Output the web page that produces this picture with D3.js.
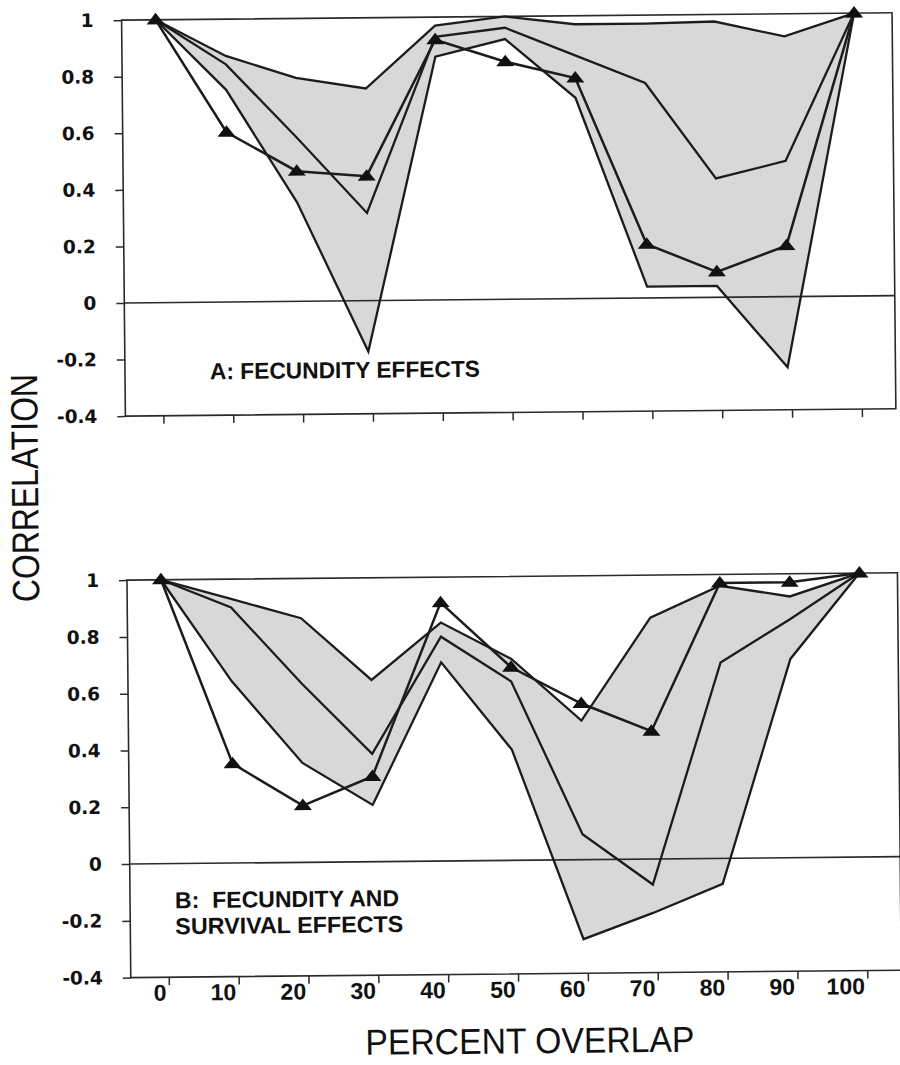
<!DOCTYPE html>
<html>
<head>
<meta charset="utf-8">
<script src="https://cdn.jsdelivr.net/npm/d3@7"></script>
<style>
  html, body { margin: 0; padding: 0; background: #fff; }
  svg { display: block; }
</style>
</head>
<body>
<svg id="fig" width="900" height="1065"></svg>
<script>
// Percent overlap categories (x) and correlation ticks (y)
const overlap = [0, 10, 20, 30, 40, 50, 60, 70, 80, 90, 100];
const xTickLabels = ["0", "10", "20", "30", "40", "50", "60", "70", "80", "90", "100"];
const yTicks = [-0.4, -0.2, 0, 0.2, 0.4, 0.6, 0.8, 1];
const yTickLabels = ["-0.4", "-0.2", "0", "0.2", "0.4", "0.6", "0.8", "1"];

// Panel A: fecundity effects
const fecUpper = [1.00, 0.87, 0.79, 0.75, 0.97, 1.00, 0.97, 0.97, 0.975, 0.92, 1.00];
const fecMid   = [1.00, 0.84, 0.58, 0.31, 0.93, 0.96, 0.86, 0.76, 0.42, 0.48, 1.00];
const fecLower = [1.00, 0.75, 0.35, -0.18, 0.86, 0.92, 0.71, 0.04, 0.04, -0.25, 1.00];
const fecObs   = [1.00, 0.60, 0.46, 0.44, 0.92, 0.84, 0.78, 0.19, 0.09, 0.18, 1.00];

// Panel B: fecundity and survival effects
const fsUpper = [1.00, 0.93, 0.86, 0.64, 0.84, 0.71, 0.49, 0.85, 0.96, 0.92, 1.00];
const fsMid   = [1.00, 0.90, 0.63, 0.38, 0.79, 0.63, 0.09, -0.09, 0.69, 0.84, 1.00];
const fsLower = [1.00, 0.64, 0.35, 0.20, 0.70, 0.39, -0.28, -0.19, -0.09, 0.70, 1.00];
const fsObs   = [1.00, 0.35, 0.20, 0.30, 0.91, 0.68, 0.55, 0.45, 0.97, 0.97, 1.00];

const INK = "#1c1c1c";
const FILL = "#d8d8d8";
const LEFT = 126.5, RIGHT = 897;

const svg = d3.select("#fig");
const root = svg.append("g").attr("transform", "rotate(-0.55 450 530)");

const x = d3.scaleLinear().domain([0, 100]).range([160.5, 859]);

const panels = [
  { top: 17, bottom: 413, upper: fecUpper, mid: fecMid, lower: fecLower, obs: fecObs, xLabels: false },
  { top: 577, bottom: 974.5, upper: fsUpper, mid: fsMid, lower: fsLower, obs: fsObs, xLabels: true }
];

panels.forEach(p => {
  const y = d3.scaleLinear().domain([-0.4, 1]).range([p.bottom, p.top]);
  const g = root.append("g");

  // shaded envelope between lower and upper bounds
  const band = overlap.map((v, i) => ({ v, lo: p.lower[i], hi: p.upper[i] }));
  g.append("path")
    .datum(band)
    .attr("d", d3.area().x(d => x(d.v)).y0(d => y(d.lo)).y1(d => y(d.hi)))
    .attr("fill", FILL)
    .attr("stroke", "none");

  // frame and zero line
  g.append("rect")
    .attr("x", LEFT).attr("y", y(1))
    .attr("width", RIGHT - LEFT).attr("height", y(-0.4) - y(1))
    .attr("fill", "none").attr("stroke", "#2a2a2a").attr("stroke-width", 1.6);
  g.append("line")
    .attr("x1", LEFT).attr("x2", RIGHT)
    .attr("y1", y(0)).attr("y2", y(0))
    .attr("stroke", "#2a2a2a").attr("stroke-width", 1.6);

  // y axis
  const yAxis = g.append("g").attr("transform", `translate(${LEFT},0)`)
    .call(d3.axisLeft(y).tickValues(yTicks).tickSize(8).tickSizeOuter(0).tickPadding(20)
      .tickFormat((d, i) => yTickLabels[i]));
  yAxis.select(".domain").remove();
  yAxis.selectAll(".tick line").attr("stroke", "#2a2a2a").attr("stroke-width", 1.5);
  yAxis.selectAll(".tick text")
    .attr("fill", "#111")
    .style("font-family", "'DejaVu Sans', sans-serif")
    .style("font-weight", "bold")
    .style("font-size", "18.5px");

  // x axis: ticks sit just right of each category, labels end before the tick
  const xAxis = g.append("g").attr("transform", `translate(0,${p.bottom})`)
    .call(d3.axisBottom(x).tickValues(overlap).tickSize(8).tickSizeOuter(0)
      .tickFormat((d, i) => xTickLabels[i]));
  xAxis.select(".domain").remove();
  xAxis.selectAll(".tick line").attr("x1", 4).attr("x2", 4)
    .attr("stroke", "#2a2a2a").attr("stroke-width", 1.5);
  if (p.xLabels) {
    xAxis.selectAll(".tick text")
      .attr("x", 1).attr("y", 23.5).attr("dy", 0)
      .attr("text-anchor", "end")
      .attr("fill", "#111")
      .style("font-family", "'Liberation Sans', Arial, sans-serif")
      .style("font-weight", "bold")
      .style("font-size", "23px");
  } else {
    xAxis.selectAll(".tick text").remove();
  }

  // series lines
  const line = d3.line().x((d, i) => x(overlap[i])).y(d => y(d));
  [p.upper, p.mid, p.lower].forEach(s => {
    g.append("path").datum(s).attr("d", line)
      .attr("fill", "none").attr("stroke", INK)
      .attr("stroke-width", 2.3).attr("stroke-linejoin", "miter");
  });
  g.append("path").datum(p.obs).attr("d", line)
    .attr("fill", "none").attr("stroke", INK)
    .attr("stroke-width", 2.5).attr("stroke-linejoin", "miter");

  // triangle markers
  g.selectAll("path.tri")
    .data(p.obs)
    .join("path")
    .attr("class", "tri")
    .attr("transform", (d, i) => `translate(${x(overlap[i])},${y(d)})`)
    .attr("d", "M0,-7L9,4.5L-9,4.5Z")
    .attr("fill", "#111");
});

// panel captions
const capStyle = sel => sel
  .attr("fill", "#111")
  .style("font-family", "'Liberation Sans', Arial, sans-serif")
  .style("font-weight", "bold")
  .style("font-size", "23px")
  .style("white-space", "pre")
  .attr("lengthAdjust", "spacingAndGlyphs");

root.append("text").attr("x", 211.5).attr("y", 377)
  .attr("textLength", 270).text("A: FECUNDITY EFFECTS").call(capStyle);
root.append("text").attr("x", 171.5).attr("y", 905.5)
  .attr("textLength", 224).text("B:  FECUNDITY AND").call(capStyle);
root.append("text").attr("x", 171.5).attr("y", 931.5)
  .attr("textLength", 228).text("SURVIVAL EFFECTS").call(capStyle);

// axis titles
root.append("text")
  .attr("transform", "translate(38.5,484) rotate(-90)")
  .attr("text-anchor", "middle")
  .attr("textLength", 228).attr("lengthAdjust", "spacingAndGlyphs")
  .attr("fill", "#111")
  .style("font-family", "'Liberation Sans', Arial, sans-serif")
  .style("font-size", "38px")
  .text("CORRELATION");

root.append("text")
  .attr("x", 525).attr("y", 1054)
  .attr("text-anchor", "middle")
  .attr("textLength", 329).attr("lengthAdjust", "spacingAndGlyphs")
  .attr("fill", "#111")
  .style("font-family", "'Liberation Sans', Arial, sans-serif")
  .style("font-size", "36px")
  .text("PERCENT OVERLAP");
</script>
</body>
</html>
